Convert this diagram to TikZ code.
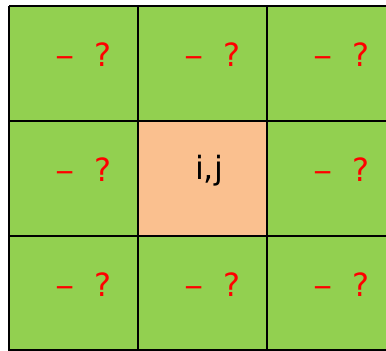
\documentclass[tikz,border=0pt]{standalone}
\usepackage{fontspec}
\setmainfont{DejaVu Sans}
\definecolor{cellgreen}{RGB}{146,208,80}
\definecolor{cellorange}{RGB}{250,192,143}
\definecolor{qred}{RGB}{255,0,0}
\tikzset{
  cellbox/.style={draw=black,line width=2pt},
  qtext/.style={text=qred,font=\fontsize{32}{32}\selectfont,inner sep=0pt,anchor=base west},
  ctext/.style={text=black,font=\fontsize{32}{32}\selectfont,inner sep=0pt,anchor=base},
}
\newcommand{\qmark}{\scalebox{1.2}[1]{–}\hspace{0.62em}?}
\begin{document}
\begin{tikzpicture}[x=1pt,y=1pt]
\useasboundingbox (0,0) rectangle (386,351);
\foreach \c/\xl in {0/9,1/138,2/267}{
  \foreach \r/\yt in {0/345,1/230,2/115}{
    \pgfmathsetmacro{\xr}{\xl+129}
    \pgfmathsetmacro{\yb}{\yt-115}
    \ifnum\c=1 \ifnum\r=1
      \fill[cellorange] (\xl,\yb) rectangle (\xr,\yt);
    \else
      \fill[cellgreen] (\xl,\yb) rectangle (\xr,\yt);
    \fi\else
      \fill[cellgreen] (\xl,\yb) rectangle (\xr,\yt);
    \fi
  }
}
\foreach \x in {9,138,267,396}{ \draw[cellbox] (\x,0) -- (\x,345); }
\foreach \y in {0.5,115,230,345}{ \draw[cellbox] (9,\y) -- (396,\y); }
\foreach \c/\xl in {0/9,1/138,2/267}{
  \foreach \r/\yt in {0/345,1/230,2/115}{
    \ifnum\c=1 \ifnum\r=1 \else
      \node[qtext] (q\c\r) at (\xl+46,\yt-60.5) {\qmark};
    \fi\else
      \node[qtext] (q\c\r) at (\xl+46,\yt-60.5) {\qmark};
    \fi
  }
}
\node[ctext] (ij) at (209,171) {i,j};
\end{tikzpicture}
\end{document}
